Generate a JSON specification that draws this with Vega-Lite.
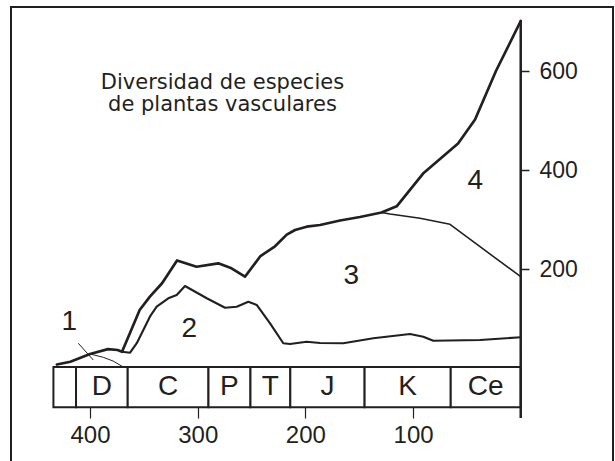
{
  "$schema": "https://vega.github.io/schema/vega-lite/v6.json",
  "width": 602,
  "height": 460,
  "autosize": {"type": "none"},
  "padding": {"left": 11, "top": 7, "right": 2, "bottom": 0},
  "background": "white",
  "config": {
    "view": {"stroke": "#231f20", "strokeWidth": 2},
    "font": "Liberation Sans",
    "axis": {"grid": false, "domain": false, "title": null, "labelFont": "Liberation Sans", "labelColor": "#231f20", "tickColor": "#231f20"},
    "axisBottom": {"offset": -60, "format": "d", "tickSize": 11, "tickWidth": 1.2, "labelFontSize": 24, "labelPadding": 5},
    "axisRight": {"offset": -92, "format": "d", "tickSize": 8, "tickWidth": 1.5, "labelFontSize": 23, "labelPadding": 10}
  },
  "datasets": {
    "periods": [
      {"period": "", "age": 434, "age2": 413},
      {"period": "D", "age": 413, "age2": 365},
      {"period": "C", "age": 365, "age2": 290},
      {"period": "P", "age": 290, "age2": 251},
      {"period": "T", "age": 251, "age2": 214},
      {"period": "J", "age": 214, "age2": 145},
      {"period": "K", "age": 145, "age2": 65},
      {"period": "Ce", "age": 65, "age2": 0}
    ],
    "lines": [
      {"series": "total", "age": 430.8, "value": 8},
      {"series": "total", "age": 418.3, "value": 13.7},
      {"series": "total", "age": 400, "value": 29.3},
      {"series": "total", "age": 383.3, "value": 39},
      {"series": "total", "age": 374.4, "value": 37.3},
      {"series": "total", "age": 370.3, "value": 33.7},
      {"series": "total", "age": 362.9, "value": 71.6},
      {"series": "total", "age": 353.9, "value": 118},
      {"series": "total", "age": 344.4, "value": 145},
      {"series": "total", "age": 333.1, "value": 172},
      {"series": "total", "age": 319.2, "value": 218},
      {"series": "total", "age": 301.1, "value": 205.4},
      {"series": "total", "age": 280.9, "value": 212.2},
      {"series": "total", "age": 268.6, "value": 202.2},
      {"series": "total", "age": 256.1, "value": 185.3},
      {"series": "total", "age": 241.7, "value": 227},
      {"series": "total", "age": 228.2, "value": 246.6},
      {"series": "total", "age": 217.3, "value": 270.2},
      {"series": "total", "age": 209.6, "value": 279.5},
      {"series": "total", "age": 198.8, "value": 286.2},
      {"series": "total", "age": 186.4, "value": 289.6},
      {"series": "total", "age": 167.8, "value": 298.7},
      {"series": "total", "age": 149.3, "value": 305.8},
      {"series": "total", "age": 129.3, "value": 314.8},
      {"series": "total", "age": 115.2, "value": 327.3},
      {"series": "total", "age": 90.7, "value": 393.5},
      {"series": "total", "age": 58.2, "value": 454},
      {"series": "total", "age": 42.4, "value": 502.5},
      {"series": "total", "age": 23, "value": 600.4},
      {"series": "total", "age": 0, "value": 701.3},
      {"series": "lower", "age": 370.3, "value": 33.7},
      {"series": "lower", "age": 362.8, "value": 31.9},
      {"series": "lower", "age": 356.6, "value": 51},
      {"series": "lower", "age": 344.4, "value": 104.5},
      {"series": "lower", "age": 338.1, "value": 124.7},
      {"series": "lower", "age": 327.3, "value": 141.7},
      {"series": "lower", "age": 319.5, "value": 148.3},
      {"series": "lower", "age": 311.8, "value": 166.5},
      {"series": "lower", "age": 291.6, "value": 141.7},
      {"series": "lower", "age": 274.6, "value": 122.7},
      {"series": "lower", "age": 263.8, "value": 124.7},
      {"series": "lower", "age": 253, "value": 134.8},
      {"series": "lower", "age": 245.2, "value": 128.2},
      {"series": "lower", "age": 232.8, "value": 91.2},
      {"series": "lower", "age": 220.5, "value": 50.9},
      {"series": "lower", "age": 214.3, "value": 49.4},
      {"series": "lower", "age": 198.8, "value": 54.1},
      {"series": "lower", "age": 186.4, "value": 51.5},
      {"series": "lower", "age": 164.8, "value": 50.9},
      {"series": "lower", "age": 136.9, "value": 61},
      {"series": "lower", "age": 102.8, "value": 69.6},
      {"series": "lower", "age": 90.5, "value": 64.2},
      {"series": "lower", "age": 81.2, "value": 56.1},
      {"series": "lower", "age": 37.8, "value": 57.5},
      {"series": "lower", "age": 0, "value": 63},
      {"series": "upper", "age": 129.3, "value": 314.8},
      {"series": "upper", "age": 121.4, "value": 311.8},
      {"series": "upper", "age": 93.5, "value": 303.1},
      {"series": "upper", "age": 65.7, "value": 291},
      {"series": "upper", "age": 37.8, "value": 245.8},
      {"series": "upper", "age": 0, "value": 185.3},
      {"series": "group1", "age": 430.8, "value": 8},
      {"series": "group1", "age": 418.3, "value": 13.7},
      {"series": "group1", "age": 400, "value": 29.3},
      {"series": "group1", "age": 387.7, "value": 22.6},
      {"series": "group1", "age": 378.6, "value": 15.1},
      {"series": "group1", "age": 370.6, "value": 5}
    ],
    "regions": [
      {"label": "1", "age": 419.3, "value": 93.1},
      {"label": "2", "age": 307.9, "value": 80.5},
      {"label": "3", "age": 157.3, "value": 186.9},
      {"label": "4", "age": 42.2, "value": 378.2}
    ],
    "pointer": [
      {"age": 410.9, "value": 50.9, "age2": 397, "value2": 17.2}
    ],
    "title": [
      {"label": "Diversidad de especies", "age": 277, "value": 563.5},
      {"label": "de plantas vasculares", "age": 277, "value": 519.7}
    ]
  },
  "layer": [
    {
      "data": {"name": "periods"},
      "mark": {"type": "rect", "fill": "white", "stroke": "#231f20", "strokeWidth": 2},
      "encoding": {
        "x": {"field": "age", "type": "quantitative", "scale": {"domain": [-85.7, 473.4], "reverse": true, "nice": false, "zero": false}, "axis": {"orient": "bottom", "values": [400, 300, 200, 100]}},
        "x2": {"field": "age2"},
        "y": {"datum": 3, "type": "quantitative", "scale": {"domain": [-198.8, 729.6], "nice": false, "zero": false}, "axis": {"orient": "right", "values": [200, 400, 600]}},
        "y2": {"datum": -78}
      }
    },
    {
      "data": {"name": "periods"},
      "transform": [{"calculate": "(datum.age + datum.age2) / 2", "as": "mid"}],
      "mark": {"type": "text", "fontSize": 28, "baseline": "middle", "align": "center", "color": "#231f20"},
      "encoding": {
        "x": {"field": "mid", "type": "quantitative", "scale": {"domain": [-85.7, 473.4], "reverse": true, "nice": false, "zero": false}, "axis": {"orient": "bottom", "values": [400, 300, 200, 100]}},
        "y": {"datum": -37.5, "type": "quantitative", "scale": {"domain": [-198.8, 729.6], "nice": false, "zero": false}, "axis": {"orient": "right", "values": [200, 400, 600]}},
        "text": {"field": "period"}
      }
    },
    {
      "data": {"name": "lines"},
      "mark": {"type": "line", "color": "#231f20", "strokeJoin": "round", "strokeCap": "round"},
      "encoding": {
        "x": {"field": "age", "type": "quantitative", "scale": {"domain": [-85.7, 473.4], "reverse": true, "nice": false, "zero": false}, "axis": {"orient": "bottom", "values": [400, 300, 200, 100]}},
        "y": {"field": "value", "type": "quantitative", "scale": {"domain": [-198.8, 729.6], "nice": false, "zero": false}, "axis": {"orient": "right", "values": [200, 400, 600]}},
        "detail": {"field": "series"},
        "strokeWidth": {
          "field": "series",
          "type": "nominal",
          "scale": {"domain": ["total", "lower", "upper", "group1"], "range": [2.7, 1, 1, 1]},
          "legend": null
        }
      }
    },
    {
      "data": {"name": "pointer"},
      "mark": {"type": "rule", "color": "#231f20", "strokeWidth": 1},
      "encoding": {
        "x": {"field": "age", "type": "quantitative", "scale": {"domain": [-85.7, 473.4], "reverse": true, "nice": false, "zero": false}, "axis": {"orient": "bottom", "values": [400, 300, 200, 100]}},
        "y": {"field": "value", "type": "quantitative", "scale": {"domain": [-198.8, 729.6], "nice": false, "zero": false}, "axis": {"orient": "right", "values": [200, 400, 600]}},
        "x2": {"field": "age2"},
        "y2": {"field": "value2"}
      }
    },
    {
      "data": {"values": [{"age": 0}]},
      "mark": {"type": "rule", "color": "#231f20", "strokeWidth": 2.5},
      "encoding": {
        "x": {"field": "age", "type": "quantitative", "scale": {"domain": [-85.7, 473.4], "reverse": true, "nice": false, "zero": false}, "axis": {"orient": "bottom", "values": [400, 300, 200, 100]}},
        "y": {"datum": 703, "type": "quantitative", "scale": {"domain": [-198.8, 729.6], "nice": false, "zero": false}, "axis": {"orient": "right", "values": [200, 400, 600]}},
        "y2": {"datum": -100}
      }
    },
    {
      "data": {"name": "regions"},
      "mark": {"type": "text", "fontSize": 28, "baseline": "middle", "align": "center", "color": "#231f20"},
      "encoding": {
        "x": {"field": "age", "type": "quantitative", "scale": {"domain": [-85.7, 473.4], "reverse": true, "nice": false, "zero": false}, "axis": {"orient": "bottom", "values": [400, 300, 200, 100]}},
        "y": {"field": "value", "type": "quantitative", "scale": {"domain": [-198.8, 729.6], "nice": false, "zero": false}, "axis": {"orient": "right", "values": [200, 400, 600]}},
        "text": {"field": "label"}
      }
    },
    {
      "data": {"name": "title"},
      "mark": {"type": "text", "font": "DejaVu Sans", "fontSize": 21, "baseline": "alphabetic", "align": "center", "color": "#231f20"},
      "encoding": {
        "x": {"field": "age", "type": "quantitative", "scale": {"domain": [-85.7, 473.4], "reverse": true, "nice": false, "zero": false}, "axis": {"orient": "bottom", "values": [400, 300, 200, 100]}},
        "y": {"field": "value", "type": "quantitative", "scale": {"domain": [-198.8, 729.6], "nice": false, "zero": false}, "axis": {"orient": "right", "values": [200, 400, 600]}},
        "text": {"field": "label"}
      }
    }
  ]
}
